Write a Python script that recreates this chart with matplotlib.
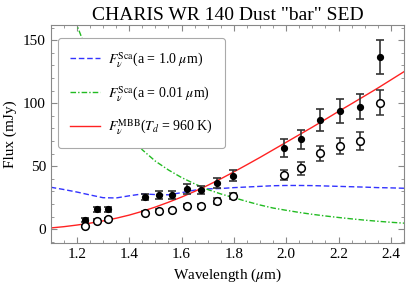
import numpy as np
import matplotlib
matplotlib.use("Agg")
import matplotlib.pyplot as plt
from matplotlib.ticker import MultipleLocator

plt.rcParams['font.family'] = ['Liberation Serif', 'DejaVu Serif']
plt.rcParams['mathtext.fontset'] = 'stix'

# Data points
wl = [1.232, 1.275, 1.320, 1.462, 1.513, 1.565, 1.619, 1.676, 1.736, 1.795,
      1.990, 2.058, 2.129, 2.205, 2.280, 2.360]
flux_filled = [7.4, 15.8, 15.8, 25.3, 27.2, 27.0, 31.7, 31.1, 37.0, 42.5,
               64.2, 71.3, 86.6, 93.7, 97.2, 136.8]
err_filled = [1.5, 2.0, 2.0, 2.5, 3.0, 3.0, 4.0, 3.0, 4.0, 4.3,
              7.0, 7.5, 8.7, 9.7, 9.7, 13.5]
flux_open = [2.6, 6.8, 7.9, 13.2, 14.8, 15.3, 18.5, 18.7, 22.4, 26.6,
             43.0, 48.3, 60.2, 66.0, 70.2, 100.3]
err_open = [1.0, 1.0, 1.0, 1.0, 1.0, 1.0, 1.2, 1.2, 2.0, 2.5,
            4.0, 5.3, 6.0, 6.7, 7.0, 10.0]

# Model curves
wl_model = [1.10, 1.15, 1.20, 1.25, 1.30, 1.35, 1.40, 1.45, 1.50, 1.55,
            1.60, 1.65, 1.70, 1.75, 1.80, 1.85, 1.90, 1.95, 2.00, 2.05,
            2.10, 2.15, 2.20, 2.25, 2.30, 2.35, 2.40, 2.45]
sca_1um = [33.3, 31.5, 29.5, 27.2, 25.0, 24.8, 26.5, 28.0, 27.5, 27.3,
           29.0, 31.0, 32.0, 32.3, 33.0, 33.5, 34.0, 34.5, 34.7, 34.7,
           34.6, 34.3, 34.0, 33.7, 33.4, 33.0, 32.8, 32.5]
sca_001um = [200.0, 195.0, 162.0, 135.0, 113.0, 93.0, 77.0, 63.0, 54.0, 47.0,
             41.0, 36.0, 31.5, 28.0, 25.0, 22.0, 19.2, 16.8, 15.0, 13.3,
             11.8, 10.5, 9.3, 8.2, 7.2, 6.3, 5.5, 4.8]
mbb = [1.0, 2.0, 3.3, 4.8, 6.6, 8.7, 11.2, 14.2, 17.6, 21.4,
       25.5, 30.0, 34.8, 40.0, 45.5, 51.2, 57.0, 63.0, 69.0, 75.0,
       81.0, 87.2, 93.5, 99.6, 105.8, 112.0, 118.5, 125.0]

fig = plt.figure(figsize=(4.07, 2.88), dpi=100)
ax = fig.add_axes([0.1246, 0.156, 0.868, 0.757])

ax.plot(wl_model, sca_1um, color='#3333ff', ls=(0, (4, 2)), lw=1.0,
        label=r'$F_\nu^{\rm Sca}$(a = 1.0 $\mu$m)')
ax.plot(wl_model, sca_001um, color='#22bb22', ls=(0, (4, 1.5, 1, 1.5)), lw=1.0,
        label=r'$F_\nu^{\rm Sca}$(a = 0.01 $\mu$m)')
ax.plot(wl_model, mbb, color='#ff2222', lw=1.0,
        label=r'$F_\nu^{\rm MBB}$($T_d$ = 960 K)')

ax.errorbar(wl, flux_filled, yerr=err_filled, fmt='o', color='black',
            ms=4.2, ecolor='#333333', elinewidth=1.2, capsize=3, capthick=1.2, zorder=5)
ax.errorbar(wl, flux_open, yerr=err_open, fmt='o', mfc='white', mec='black',
            mew=1.1, ms=5.5, ecolor='#333333', elinewidth=1.2, capsize=3,
            capthick=1.2, zorder=5)

ax.set_xlim(1.1, 2.45)
ax.set_ylim(-11, 162)
ax.xaxis.set_major_locator(MultipleLocator(0.2))
ax.xaxis.set_minor_locator(MultipleLocator(0.05))
ax.yaxis.set_major_locator(MultipleLocator(50))
ax.yaxis.set_minor_locator(MultipleLocator(10))
ax.set_xticks([1.2, 1.4, 1.6, 1.8, 2.0, 2.2, 2.4])
ax.set_xticklabels(['1.2', '1.4', '1.6', '1.8', '2.0', '2.2', '2.4'])
ax.tick_params(which='both', direction='in', top=True, right=True,
               color='#888888', labelsize=11)
ax.tick_params(which='major', length=4)
ax.tick_params(which='minor', length=2)
for s in ax.spines.values():
    s.set_color('#888888')

ax.set_xlabel(r'Wavelength ($\mu$m)', fontsize=11)
ax.set_ylabel('Flux (mJy)', fontsize=11)
ax.set_title('CHARIS WR 140 Dust "bar" SED', fontsize=14, pad=4)

leg = ax.legend(loc='upper left', bbox_to_anchor=(0.02, 0.94), borderaxespad=0,
                fontsize=10, handlelength=2.2, handletextpad=0.55,
                labelspacing=1.05, framealpha=1,
                edgecolor='#aaaaaa', fancybox=True, borderpad=0.85)
leg.get_frame().set_linewidth(0.8)

fig.savefig('out.png', dpi=100)
